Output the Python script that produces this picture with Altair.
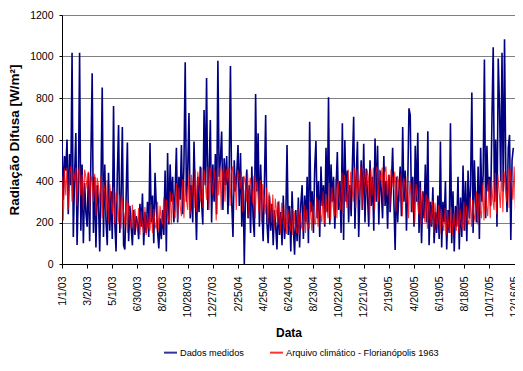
import altair as alt
import pandas as pd

# ---- data ----
series_names = ["Dados medidos", "Arquivo climático - Florianópolis 1963"]

# measured diffuse radiation, one reading every 3 days from 1/1/03
blue_vals = [
    590, 310, 520, 450, 600, 240, 530, 380, 1018, 130,
    420, 631, 92, 350, 1018, 160, 480, 100, 390, 250,
    180, 440, 110, 520, 919, 150, 420, 80, 380, 300,
    60, 380, 850, 130, 480, 210, 90, 440, 160, 350,
    120, 761, 200, 60, 430, 670, 150, 330, 660, 90,
    70, 320, 585, 110, 280, 180, 90, 260, 140, 230,
    200, 120, 290, 180, 340, 90, 250, 150, 300, 130,
    583, 200, 330, 100, 440, 280, 160, 75, 220, 120,
    260, 140, 450, 60, 535, 190, 480, 300, 420, 200,
    350, 560, 200, 420, 310, 573, 240, 480, 972, 300,
    450, 728, 220, 380, 200, 590, 330, 116, 420, 250,
    470, 300, 190, 742, 380, 896, 260, 450, 694, 200,
    480, 300, 530, 240, 980, 420, 500, 638, 260, 510,
    380, 520, 240, 470, 954, 300, 130, 500, 350, 430,
    573, 280, 535, 180, 420, 0, 350, 455, 220, 380,
    150, 470, 220, 130, 819, 350, 630, 180, 480, 280,
    110, 380, 718, 200, 100, 330, 160, 290, 90, 260,
    180, 70, 300, 140, 250, 90, 330, 120, 210, 573,
    140, 280, 60, 350, 180, 45, 260, 110, 320, 80,
    290, 380, 120, 330, 200, 420, 100, 686, 250, 350,
    150, 460, 593, 220, 400, 130, 470, 280, 380, 180,
    560, 250, 803, 190, 480, 300, 420, 170, 360, 540,
    260, 400, 150, 678, 116, 598, 300, 450, 200, 380,
    230, 480, 710, 170, 420, 590, 130, 350, 500, 260,
    580, 200, 460, 330, 180, 500, 280, 420, 160, 605,
    300, 570, 190, 450, 350, 220, 520, 280, 400, 170,
    430, 250, 380, 560, 300, 67, 420, 200, 350, 470,
    230, 660, 300, 450, 160, 380, 750, 718, 250, 420,
    180, 570, 300, 633, 150, 400, 100, 350, 220, 480,
    200, 640, 90, 300, 180, 370, 100, 250, 150, 330,
    120, 590, 80, 300, 200, 400, 70, 260, 150, 678,
    100, 350, 60, 280, 180, 420, 70, 320, 130, 475,
    160, 400, 110, 450, 220, 380, 826, 150, 500, 300,
    200, 470, 120, 560, 300, 430, 986, 220, 570, 350,
    420, 280, 700, 1044, 300, 600, 180, 990, 760, 400,
    1018, 350, 1083, 450, 250, 560, 622, 116, 500, 560,
]

# climatic file (typical year), one reading every 3 days, repeated each year
red_year = [
    420, 210, 460, 330, 465, 260, 440, 470, 300, 455,
    400, 465, 280, 440, 470, 330, 430, 260, 455, 420,
    360, 445, 250, 425, 400, 300, 435, 230, 415, 380,
    290, 425, 220, 395, 350, 250, 405, 200, 385, 320,
    240, 370, 190, 345, 290, 200, 335, 170, 315, 250,
    190, 305, 150, 295, 220, 170, 285, 145, 265, 200,
    160, 270, 140, 255, 180, 150, 275, 140, 245, 175,
    160, 285, 150, 265, 190, 170, 300, 160, 280, 210,
    190, 320, 180, 310, 240, 200, 350, 190, 340, 260,
    220, 390, 210, 370, 280, 230, 410, 220, 400, 310,
    260, 440, 240, 430, 350, 270, 455, 250, 445, 370,
    300, 465, 270, 455, 390, 310, 470, 260, 465, 400,
    330, 455,
]
red_years = [2003, 2004, 2005]

tick_labels = ["1/1/03", "3/2/03", "5/1/03", "6/30/03", "8/29/03", "10/28/03",
               "12/27/03", "2/25/04", "4/25/04", "6/24/04", "8/23/04", "10/22/04",
               "12/21/04", "2/19/05", "4/20/05", "6/19/05", "8/18/05", "10/17/05",
               "12/16/05"]
y_ticks = [0, 200, 400, 600, 800, 1000, 1200]

# ---- table ----
rows = []
start = pd.Timestamp("2003-01-01")
for i, v in enumerate(blue_vals):
    rows.append({"data": (start + pd.Timedelta(days=3 * i)).strftime("%Y-%m-%dT00:00:00"),
                 "valor": v, "serie": series_names[0], "ordem": 0})
for yr in red_years:
    ys = pd.Timestamp(f"{yr}-01-01")
    for i, v in enumerate(red_year):
        rows.append({"data": (ys + pd.Timedelta(days=3 * i)).strftime("%Y-%m-%dT00:00:00"),
                     "valor": v, "serie": series_names[1], "ordem": 1})
df = pd.DataFrame(rows)


def to_dt(lbl):
    m, d, y = lbl.split("/")
    return alt.DateTime(year=2000 + int(y), month=int(m), date=int(d))


tick_values = [to_dt(t) for t in tick_labels]

FONT = "Liberation Sans"

x_enc = alt.X(
    "data:T",
    scale=alt.Scale(domain=[alt.DateTime(year=2003, month=1, date=1),
                            alt.DateTime(year=2005, month=12, date=17)]),
    axis=alt.Axis(values=tick_values, format="%-m/%-d/%y", labelAngle=270,
                  labelFontSize=10.5, labelFont=FONT, labelColor="black",
                  tickSize=4, tickColor="black", labelPadding=8,
                  domainColor="black", grid=False, title="Data",
                  titleFont=FONT, titleFontSize=12, titleFontWeight="bold",
                  titleColor="black", titlePadding=11, labelOverlap=False,
                  labelBound=False, labelFlush=False),
)
y_enc = alt.Y(
    "valor:Q",
    scale=alt.Scale(domain=[0, 1200], nice=False),
    axis=alt.Axis(values=y_ticks, format="d", labelFontSize=10.5, labelFont=FONT,
                  labelColor="black", tickSize=3, tickColor="black",
                  labelPadding=6, domainColor="black", gridColor="#808080",
                  gridWidth=1, title="Radiação Difusa [W/m²]", titleFont=FONT,
                  titleFontSize=13.5, titleFontWeight="bold", titleColor="black",
                  titlePadding=8),
)
color_enc = alt.Color(
    "serie:N",
    scale=alt.Scale(domain=series_names, range=["#000080", "#FF0000"]),
    legend=alt.Legend(orient="none", direction="horizontal", legendX=101,
                      legendY=330, title=None, symbolType="stroke",
                      symbolSize=169, symbolStrokeWidth=2, labelFont=FONT,
                      labelFontSize=9.2, labelColor="black", labelOffset=2,
                      columnPadding=22, padding=0),
)

blue = alt.Chart(df).transform_filter(
    alt.datum.ordem == 0
).mark_line(strokeWidth=1.6, clip=True).encode(x=x_enc, y=y_enc, color=color_enc)
red = alt.Chart(df).transform_filter(
    alt.datum.ordem == 1
).mark_line(strokeWidth=1.1, opacity=0.8, clip=True).encode(x=x_enc, y=y_enc, color=color_enc)

chart = alt.layer(blue, red).properties(
    width=453, height=249,
    autosize=alt.AutoSizeParams(type="none"),
    padding={"left": 54, "top": 7, "right": 0, "bottom": 94},
).configure_view(stroke=None).configure(background="white")

chart.save("out.html", embed_options={"renderer": "svg", "actions": False})
